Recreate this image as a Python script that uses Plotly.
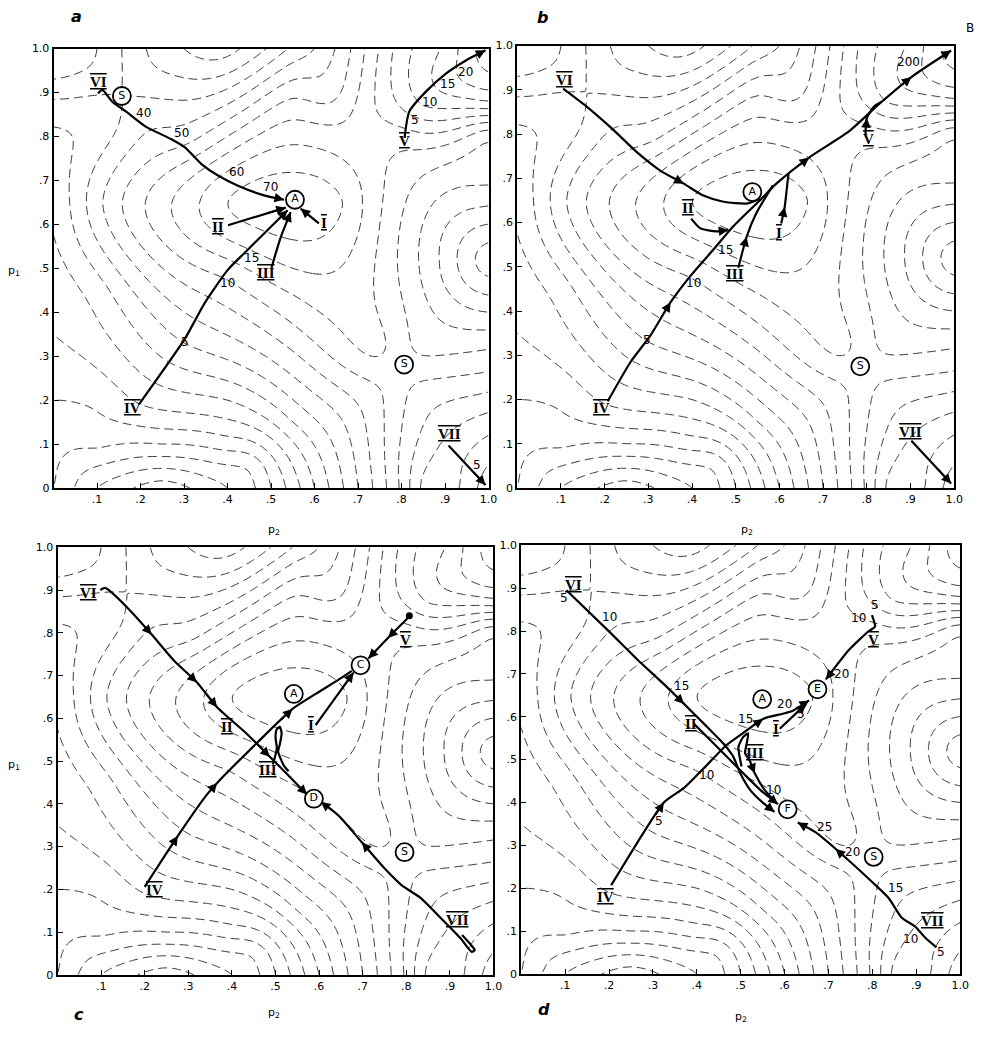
import numpy as np
import plotly.graph_objects as go

PAGE_MARGIN = 8          # default body margin of the written page
W, H = 984 - PAGE_MARGIN, 1052 - PAGE_MARGIN

# ---------------- background surface: landmark points (p2, p1) with the contour level counted off the map ----------------
# level unit = one dashed contour interval; saddle S sits half-way between two contours
LM_P2 = [0.55, 0.79, 1.00, 1.00, 1.00, 0.00, 0.157, 0.38, 0.69, 0.25, 0.00,
         0.40, 0.665, 0.55, 0.55, 0.336, 0.71, 0.55, 0.55, 0.272, 0.75, 0.55, 0.55, 0.211, 0.158, 0.105, 0.55, 0.55,
         1.00, 0.88, 1.00, 0.90,
         0.90, 0.80, 1.00, 1.00, 1.00, 1.00, 0.90, 0.90,
         1.00, 1.00, 1.00, 0.80, 0.85, 0.92, 0.73, 0.63,
         0.10, 0.20, 0.30, 0.50, 0.60, 0.70, 0.80, 0.90,
         0.00, 0.00, 0.00, 0.00, 0.00, 0.00, 0.00, 0.00,
         0.10, 0.40, 0.50, 0.60, 0.70, 0.75, 0.80, 0.90,
         0.25, 0.10, 0.40, 0.40, 0.55, 0.55, 0.65, 0.70, 0.105, 0.10, 0.20, 0.10, 0.30, 0.40,
         0.30, 0.45, 0.28,
         0.745, 0.835, 0.84, 0.74,
         0.11, 0.205, 0.11, 0.205,
         0.05, 0.25, 0.45]
LM_P1 = [0.65, 0.27, 0.00, 0.52, 1.00, 1.00, 0.892, 1.00, 0.78, 0.00, 0.00,
         0.65, 0.65, 0.565, 0.718, 0.65, 0.65, 0.50, 0.781, 0.65, 0.60, 0.44, 0.838, 0.65, 0.65, 0.65, 0.887, 0.95,
         0.12, 0.00, 0.25, 0.15,
         0.52, 0.52, 0.42, 0.62, 0.33, 0.72, 0.40, 0.65,
         0.80, 0.84, 0.88, 0.80, 0.87, 0.93, 0.86, 0.90,
         1.00, 1.00, 1.00, 1.00, 1.00, 1.00, 1.00, 1.00,
         0.93, 0.87, 0.80, 0.65, 0.50, 0.35, 0.20, 0.10,
         0.00, 0.00, 0.00, 0.00, 0.00, 0.00, 0.00, 0.00,
         0.10, 0.10, 0.10, 0.20, 0.15, 0.30, 0.15, 0.40, 0.65, 0.45, 0.19, 0.20, 0.33, 0.49,
         0.80, 0.85, 0.90,
         0.315, 0.225, 0.32, 0.22,
         0.94, 0.845, 0.845, 0.94,
         0.05, 0.05, 0.05]
LM_LEVEL = [3.6, 0.5, 5.6, -4.5, 7.6, -1.2, -3.0, -5.5, 1.5, -11.5, -8.0,
            3.0, 3.0, 3.0, 3.0, 2.0, 2.0, 2.0, 2.0, 1.0, 1.0, 1.0, 1.0, 0.0, -1.0, -2.2, 0.0, -1.5,
            4.0, 4.0, 1.3, 2.6,
            -2.3, -0.2, -2.5, -2.5, -0.3, -0.5, -1.3, -1.3,
            0.3, 2.5, 5.0, 1.5, 4.0, 5.8, 1.8, -0.5,
            -2.0, -3.8, -5.0, -3.8, -2.0, 0.5, 3.5, 5.2,
            -2.0, -3.3, -4.2, -4.8, -5.4, -6.0, -7.0, -7.6,
            -10.0, -10.0, -8.0, -5.0, -2.0, -0.5, 1.2, 3.5,
            -8.0, -7.8, -7.5, -5.0, -4.0, -1.2, -2.3, 1.3, -2.2, -4.5, -6.0, -6.8, -3.0, 0.3,
            -1.5, -0.5, -3.3,
            1.2, 1.2, -0.2, -0.2,
            -2.4, -2.4, -3.6, -3.6,
            -8.6, -9.8, -8.8]
LEVEL_START, LEVEL_END, LEVEL_STEP = -12.0, 8.0, 1.0

# ---------------- axis ticks ----------------
X_TICKS = [0.1, 0.2, 0.3, 0.4, 0.5, 0.6, 0.7, 0.8, 0.9, 1.0]
X_TICKTEXT = [".1", ".2", ".3", ".4", ".5", ".6", ".7", ".8", ".9", "1.0"]
Y_TICKS = [0.0, 0.1, 0.2, 0.3, 0.4, 0.5, 0.6, 0.7, 0.8, 0.9, 1.0]
Y_TICKTEXT = ["0", ".1", ".2", ".3", ".4", ".5", ".6", ".7", ".8", ".9", "1.0"]

# ---------------- panel a ----------------
A_VI_P2 = [0.102, 0.112, 0.135, 0.166, 0.211, 0.272, 0.302, 0.340, 0.378, 0.424, 0.484, 0.530]
A_VI_P1 = [0.898, 0.906, 0.879, 0.857, 0.823, 0.793, 0.775, 0.737, 0.711, 0.688, 0.666, 0.656]
A_II_P2 = [0.401, 0.534]
A_II_P1 = [0.598, 0.638]
A_III_P2 = [0.501, 0.522, 0.545]
A_III_P1 = [0.501, 0.570, 0.628]
A_I_P2 = [0.610, 0.568]
A_I_P1 = [0.602, 0.636]
A_IV_P2 = [0.196, 0.302, 0.348, 0.401, 0.439, 0.538]
A_IV_P1 = [0.190, 0.340, 0.422, 0.497, 0.535, 0.632]
A_V_P2 = [0.807, 0.818, 0.856, 0.902, 0.948, 0.993]
A_V_P1 = [0.797, 0.857, 0.902, 0.943, 0.973, 0.996]
A_VII_P2 = [0.908, 0.993]
A_VII_P1 = [0.097, 0.007]
A_ARROWS = {"VI": [11], "II": [1], "III": [2], "I": [1], "IV": [5], "V": [5], "VII": [1]}
A_NUM_TEXT = ["VI", "II", "III", "I", "IV", "V", "VII"]
A_NUM_P2 = [0.103, 0.378, 0.488, 0.621, 0.181, 0.807, 0.910]
A_NUM_P1 = [0.924, 0.595, 0.490, 0.602, 0.183, 0.789, 0.123]
A_TIME_TEXT = ["40", "50", "60", "70", "5", "10", "15", "5", "10", "15", "20", "5"]
A_TIME_P2 = [0.207, 0.293, 0.420, 0.498, 0.302, 0.401, 0.454, 0.830, 0.864, 0.906, 0.948, 0.974]
A_TIME_P1 = [0.853, 0.808, 0.718, 0.686, 0.333, 0.467, 0.524, 0.838, 0.879, 0.920, 0.947, 0.052]
A_CIRC_TEXT = ["A", "S", "S"]
A_CIRC_P2 = [0.555, 0.157, 0.806]
A_CIRC_P1 = [0.656, 0.892, 0.281]

# ---------------- panel b ----------------
B_VI_P2 = [0.105, 0.154, 0.215, 0.275, 0.328, 0.381, 0.426, 0.472, 0.525, 0.555]
B_VI_P1 = [0.903, 0.866, 0.814, 0.758, 0.717, 0.688, 0.661, 0.647, 0.643, 0.654]
B_IV_P2 = [0.207, 0.260, 0.305, 0.351, 0.396, 0.449, 0.494, 0.555, 0.593, 0.668, 0.759, 0.834, 0.902, 0.993]
B_IV_P1 = [0.196, 0.286, 0.345, 0.420, 0.479, 0.539, 0.591, 0.650, 0.688, 0.747, 0.806, 0.873, 0.929, 0.989]
B_II_P2 = [0.398, 0.419, 0.456, 0.483]
B_II_P1 = [0.609, 0.587, 0.580, 0.583]
B_III_P2 = [0.506, 0.525, 0.547, 0.585]
B_III_P1 = [0.498, 0.568, 0.621, 0.684]
B_I_P2 = [0.604, 0.612, 0.619, 0.621]
B_I_P1 = [0.598, 0.635, 0.695, 0.710]
B_V_P2 = [0.797, 0.800, 0.816, 0.834]
B_V_P1 = [0.799, 0.836, 0.862, 0.873]
B_VII_P2 = [0.902, 0.993]
B_VII_P1 = [0.107, 0.010]
B_ARROWS = {"VI": [5], "IV": [3, 9, 12, 13], "II": [3], "III": [1], "I": [1], "V": [1], "VII": [1]}
B_NUM_TEXT = ["VI", "II", "III", "I", "IV", "V", "VII"]
B_NUM_P2 = [0.109, 0.390, 0.498, 0.600, 0.192, 0.804, 0.899]
B_NUM_P1 = [0.922, 0.634, 0.483, 0.576, 0.181, 0.788, 0.126]
B_TIME_TEXT = ["5", "10", "15", "200"]
B_TIME_P2 = [0.298, 0.404, 0.476, 0.895]
B_TIME_P1 = [0.334, 0.464, 0.539, 0.963]
B_CIRC_TEXT = ["A", "S"]
B_CIRC_P2 = [0.538, 0.785]
B_CIRC_P1 = [0.669, 0.275]
B_END_TEXT = "B"
B_END_DOMAIN_X, B_END_DOMAIN_Y = 1.022, 1.02

# ---------------- panel c ----------------
C_VI_P2 = [0.098, 0.109, 0.121, 0.162, 0.216, 0.268, 0.320, 0.366, 0.434, 0.487, 0.532, 0.572]
C_VI_P1 = [0.900, 0.905, 0.897, 0.857, 0.796, 0.734, 0.684, 0.626, 0.564, 0.510, 0.464, 0.422]
C_IV_P2 = [0.200, 0.276, 0.343, 0.366, 0.456, 0.539, 0.592, 0.652, 0.675]
C_IV_P1 = [0.206, 0.325, 0.422, 0.449, 0.541, 0.622, 0.657, 0.695, 0.711]
C_I_P2 = [0.592, 0.679]
C_I_P1 = [0.584, 0.707]
C_V_P2 = [0.807, 0.758, 0.713]
C_V_P1 = [0.838, 0.788, 0.740]
C_III_P2 = [0.494, 0.503, 0.500, 0.503, 0.510, 0.514, 0.510, 0.506, 0.512, 0.520, 0.530]
C_III_P1 = [0.492, 0.530, 0.555, 0.575, 0.580, 0.565, 0.540, 0.522, 0.505, 0.488, 0.476]
C_VII_P2 = [0.928, 0.950, 0.957, 0.950, 0.924, 0.879, 0.834, 0.789, 0.751, 0.698, 0.645, 0.604]
C_VII_P1 = [0.093, 0.068, 0.058, 0.054, 0.086, 0.133, 0.179, 0.210, 0.248, 0.310, 0.372, 0.405]
C_ARROWS = {"VI": [4, 6, 7, 9, 11], "IV": [1, 3, 5, 8], "I": [1], "V": [1, 2], "III": [9], "VII": [9, 11]}
C_NUM_TEXT = ["VI", "II", "III", "I", "IV", "V", "VII"]
C_NUM_P2 = [0.072, 0.389, 0.483, 0.581, 0.223, 0.799, 0.917]
C_NUM_P1 = [0.892, 0.580, 0.478, 0.584, 0.198, 0.784, 0.129]
C_CIRC_TEXT = ["A", "C", "D", "S"]
C_CIRC_P2 = [0.542, 0.695, 0.588, 0.796]
C_CIRC_P1 = [0.657, 0.724, 0.412, 0.287]
C_BLOB_P2 = [0.807]
C_BLOB_P1 = [0.840]

# ---------------- panel d ----------------
D_VI_P2 = [0.103, 0.197, 0.265, 0.325, 0.371, 0.416, 0.460, 0.483, 0.499, 0.521, 0.551, 0.577]
D_VI_P1 = [0.895, 0.802, 0.733, 0.676, 0.630, 0.584, 0.538, 0.507, 0.468, 0.430, 0.399, 0.378]
D_II_P2 = [0.393, 0.438, 0.476, 0.506, 0.544, 0.585]
D_II_P1 = [0.584, 0.538, 0.499, 0.468, 0.430, 0.396]
D_IV_P2 = [0.205, 0.265, 0.325, 0.371, 0.416, 0.468, 0.499, 0.551, 0.596, 0.619, 0.656]
D_IV_P1 = [0.207, 0.307, 0.400, 0.434, 0.480, 0.534, 0.557, 0.595, 0.607, 0.614, 0.638]
D_I_P2 = [0.589, 0.649]
D_I_P1 = [0.572, 0.630]
D_III_P2 = [0.502, 0.495, 0.506, 0.517, 0.513, 0.510, 0.520, 0.532, 0.554, 0.574]
D_III_P1 = [0.484, 0.530, 0.553, 0.561, 0.534, 0.515, 0.499, 0.468, 0.430, 0.407]
D_V_P2 = [0.799, 0.806, 0.792, 0.746, 0.694]
D_V_P1 = [0.837, 0.810, 0.800, 0.755, 0.687]
D_VII_P2 = [0.946, 0.920, 0.897, 0.867, 0.837, 0.799, 0.716, 0.671, 0.630]
D_VII_P1 = [0.062, 0.085, 0.111, 0.131, 0.177, 0.215, 0.292, 0.330, 0.353]
D_ARROWS = {"VI": [4, 11], "II": [5], "IV": [2, 7, 10], "I": [1], "III": [7], "V": [4], "VII": [6, 8]}
D_NUM_TEXT = ["VI", "II", "III", "I", "IV", "V", "VII"]
D_NUM_P2 = [0.118, 0.386, 0.532, 0.581, 0.193, 0.803, 0.938]
D_NUM_P1 = [0.908, 0.584, 0.515, 0.572, 0.180, 0.780, 0.123]
D_TIME_TEXT = ["5", "10", "15", "5", "10", "15", "20", "5", "10", "5", "10", "20", "5", "10", "15", "20", "25"]
D_TIME_P2 = [0.097, 0.201, 0.366, 0.314, 0.423, 0.510, 0.600, 0.638, 0.575, 0.807, 0.769, 0.730, 0.957, 0.886, 0.852, 0.754, 0.690]
D_TIME_P1 = [0.876, 0.833, 0.672, 0.357, 0.465, 0.595, 0.630, 0.607, 0.430, 0.860, 0.830, 0.700, 0.050, 0.081, 0.200, 0.284, 0.342]
D_CIRC_TEXT = ["A", "E", "F", "S"]
D_CIRC_P2 = [0.549, 0.675, 0.607, 0.803]
D_CIRC_P1 = [0.641, 0.664, 0.384, 0.273]

# ---------------- panel placement (page pixels) ----------------
PANEL_BOX = {  # left, right, top, bottom
    1: (54, 493, 43, 488),
    2: (522, 963, 40, 488),
    3: (58, 498, 548, 981),
    4: (526, 969, 546, 980),
}
PANEL_LETTERS = ["a", "b", "c", "d"]
LETTER_X = [77, 547, 80, 549]
LETTER_Y = [11, 12, 1021, 1016]
AXIS_LABEL_TEXT = ["p<sub>1</sub>", "p<sub>1</sub>", "p<sub>2</sub>", "p<sub>2</sub>", "p<sub>2</sub>", "p<sub>2</sub>"]
AXIS_LABEL_X = [14, 14, 276, 754, 276, 748]
AXIS_LABEL_Y = [268, 768, 530, 530, 1020, 1024]

fig = go.Figure()
annotations = []

# smooth (thin-plate) surface through the landmark levels
P = np.column_stack([LM_P2, LM_P1])
V = np.array(LM_LEVEL, float)


def tps_kernel(d):
    with np.errstate(divide="ignore", invalid="ignore"):
        k = d ** 2 * np.log(d)
    return np.nan_to_num(k)


n = len(P)
Kmat = tps_kernel(np.linalg.norm(P[:, None, :] - P[None, :, :], axis=-1)) + 2e-4 * np.eye(n)
Pm = np.column_stack([np.ones(n), P])
A_sys = np.block([[Kmat, Pm], [Pm.T, np.zeros((3, 3))]])
sol = np.linalg.solve(A_sys, np.concatenate([V, np.zeros(3)]))
wts, aff = sol[:n], sol[n:]

g = np.linspace(0, 1, 181)
GX, GY = np.meshgrid(g, g)
G = np.column_stack([GX.ravel(), GY.ravel()])
Z = (tps_kernel(np.linalg.norm(G[:, None, :] - P[None, :, :], axis=-1)) @ wts
     + aff[0] + G @ aff[1:]).reshape(GX.shape)


def px_x(v):
    return (v - PAGE_MARGIN) / W


def px_y(v):
    return 1 - (v - PAGE_MARGIN) / H


def ax_names(i):
    return ("x" if i == 1 else f"x{i}"), ("y" if i == 1 else f"y{i}")


def roman(txt):
    return f'<span style="text-decoration:overline underline">{txt}</span>'


def add_panel(i, trajs, arrows, num_text, num_p2, num_p1, time_text, time_p2, time_p1,
              circ_text, circ_p2, circ_p1, blob_p2=(), blob_p1=()):
    xa, ya = ax_names(i)
    fig.add_trace(go.Contour(
        x=g, y=g, z=Z, xaxis=xa, yaxis=ya, showscale=False,
        contours=dict(start=LEVEL_START, end=LEVEL_END, size=LEVEL_STEP, coloring="none"),
        line=dict(color="#222222", width=0.9, dash="9px,5px", smoothing=1.0),
        hoverinfo="skip"))
    for name, (px_, py_) in trajs.items():
        fig.add_trace(go.Scatter(x=px_, y=py_, xaxis=xa, yaxis=ya, mode="lines",
                                 line=dict(color="black", width=2.2, shape="spline", smoothing=0.6),
                                 hoverinfo="skip", showlegend=False))
        for k in arrows.get(name, []):
            hx, hy = px_[k], py_[k]
            tx = hx + 0.35 * (px_[k - 1] - hx)
            ty = hy + 0.35 * (py_[k - 1] - hy)
            annotations.append(dict(x=hx, y=hy, ax=tx, ay=ty, xref=xa, yref=ya, axref=xa, ayref=ya,
                                    text="", showarrow=True, arrowhead=2, arrowsize=1.2,
                                    arrowwidth=1.6, arrowcolor="black", standoff=0))
    if len(blob_p2):
        fig.add_trace(go.Scatter(x=list(blob_p2), y=list(blob_p1), xaxis=xa, yaxis=ya, mode="markers",
                                 marker=dict(size=7, color="black"), hoverinfo="skip", showlegend=False))
    for t, x, y in zip(num_text, num_p2, num_p1):
        annotations.append(dict(x=x, y=y, xref=xa, yref=ya, text=roman(f"<b>{t}</b>"), showarrow=False,
                                xanchor="center", yanchor="middle",
                                font=dict(family="Liberation Serif", size=15, color="black")))
    for t, x, y in zip(time_text, time_p2, time_p1):
        annotations.append(dict(x=x, y=y, xref=xa, yref=ya, text=t, showarrow=False,
                                xanchor="center", yanchor="middle",
                                font=dict(family="DejaVu Sans", size=12, color="black")))
    fig.add_trace(go.Scatter(x=circ_p2, y=circ_p1, xaxis=xa, yaxis=ya, mode="markers+text",
                             text=circ_text, textposition="middle center",
                             textfont=dict(family="DejaVu Sans", size=11, color="black"),
                             marker=dict(symbol="circle", size=18, color="white",
                                         line=dict(color="black", width=1.8)),
                             hoverinfo="skip", showlegend=False))


add_panel(1, {"VI": (A_VI_P2, A_VI_P1), "II": (A_II_P2, A_II_P1), "III": (A_III_P2, A_III_P1),
              "I": (A_I_P2, A_I_P1), "IV": (A_IV_P2, A_IV_P1), "V": (A_V_P2, A_V_P1),
              "VII": (A_VII_P2, A_VII_P1)}, A_ARROWS,
          A_NUM_TEXT, A_NUM_P2, A_NUM_P1, A_TIME_TEXT, A_TIME_P2, A_TIME_P1,
          A_CIRC_TEXT, A_CIRC_P2, A_CIRC_P1)
add_panel(2, {"VI": (B_VI_P2, B_VI_P1), "IV": (B_IV_P2, B_IV_P1), "II": (B_II_P2, B_II_P1),
              "III": (B_III_P2, B_III_P1), "I": (B_I_P2, B_I_P1), "V": (B_V_P2, B_V_P1),
              "VII": (B_VII_P2, B_VII_P1)}, B_ARROWS,
          B_NUM_TEXT, B_NUM_P2, B_NUM_P1, B_TIME_TEXT, B_TIME_P2, B_TIME_P1,
          B_CIRC_TEXT, B_CIRC_P2, B_CIRC_P1)
add_panel(3, {"VI": (C_VI_P2, C_VI_P1), "IV": (C_IV_P2, C_IV_P1), "I": (C_I_P2, C_I_P1),
              "V": (C_V_P2, C_V_P1), "III": (C_III_P2, C_III_P1), "VII": (C_VII_P2, C_VII_P1)},
          C_ARROWS, C_NUM_TEXT, C_NUM_P2, C_NUM_P1, [], [], [],
          C_CIRC_TEXT, C_CIRC_P2, C_CIRC_P1, C_BLOB_P2, C_BLOB_P1)
add_panel(4, {"VI": (D_VI_P2, D_VI_P1), "II": (D_II_P2, D_II_P1), "IV": (D_IV_P2, D_IV_P1),
              "I": (D_I_P2, D_I_P1), "III": (D_III_P2, D_III_P1), "V": (D_V_P2, D_V_P1),
              "VII": (D_VII_P2, D_VII_P1)}, D_ARROWS,
          D_NUM_TEXT, D_NUM_P2, D_NUM_P1, D_TIME_TEXT, D_TIME_P2, D_TIME_P1,
          D_CIRC_TEXT, D_CIRC_P2, D_CIRC_P1)

# panel-b end label "B" just outside the top-right corner
annotations.append(dict(x=B_END_DOMAIN_X, y=B_END_DOMAIN_Y, xref="x2 domain", yref="y2 domain",
                        text=B_END_TEXT, showarrow=False, xanchor="left", yanchor="bottom",
                        font=dict(family="DejaVu Sans", size=12, color="black")))

layout = dict(width=W, height=H, margin=dict(l=0, r=0, t=0, b=0), paper_bgcolor="white",
              plot_bgcolor="white", showlegend=False)
for i, (l, r, t, b) in PANEL_BOX.items():
    xa, ya = ax_names(i)
    kx = "xaxis" if i == 1 else f"xaxis{i}"
    ky = "yaxis" if i == 1 else f"yaxis{i}"
    common = dict(range=[0, 1], showgrid=False, zeroline=False, showline=True, linecolor="black",
                  linewidth=2, mirror=True, ticks="inside", ticklen=5, tickwidth=1, tickcolor="black",
                  tickfont=dict(family="DejaVu Sans", size=11, color="black"), fixedrange=True)
    layout[kx] = dict(common, domain=[px_x(l), px_x(r)], anchor=ya, tickvals=X_TICKS, ticktext=X_TICKTEXT)
    layout[ky] = dict(common, domain=[px_y(b), px_y(t)], anchor=xa, tickvals=Y_TICKS, ticktext=Y_TICKTEXT)

for t, x, y in zip(PANEL_LETTERS, LETTER_X, LETTER_Y):
    annotations.append(dict(x=px_x(x), y=px_y(y), xref="paper", yref="paper", text=f"<b><i>{t}</i></b>",
                            showarrow=False, xanchor="center", yanchor="middle",
                            font=dict(family="DejaVu Sans", size=16, color="black")))
for t, x, y in zip(AXIS_LABEL_TEXT, AXIS_LABEL_X, AXIS_LABEL_Y):
    annotations.append(dict(x=px_x(x), y=px_y(y), xref="paper", yref="paper", text=t,
                            showarrow=False, xanchor="center", yanchor="middle",
                            font=dict(family="DejaVu Sans", size=11, color="black")))

layout["annotations"] = annotations
fig.update_layout(**layout)
fig.write_html("out.html")
